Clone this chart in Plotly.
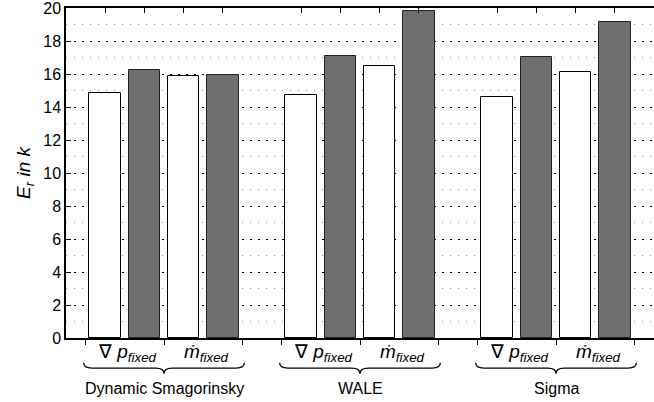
import plotly.graph_objects as go

# ---- data ----
groups = ["Dynamic Smagorinsky", "WALE", "Sigma"]
subgroups = ["∇ <i>p</i><sub><i>fixed</i></sub>", "<i>ṁ</i><sub><i>fixed</i></sub>"]
light_values = [[14.85, 15.85], [14.7, 16.5], [14.58, 16.15]]   # white bars
dark_values = [[16.22, 15.95], [17.1, 19.8], [17.04, 19.15]]    # dark bars
y_ticks = list(range(0, 21, 2))

# ---- positions (slot units) ----
def pos(g, s, b):
    return g * 5 + s * 2 + b

xl, yl, xd, yd = [], [], [], []
for g in range(len(groups)):
    for s in range(len(subgroups)):
        xl.append(pos(g, s, 0)); yl.append(light_values[g][s])
        xd.append(pos(g, s, 1)); yd.append(dark_values[g][s])

XMIN, XMAX = -1.0, 14.0
bar_w = 0.81
font_family = "Liberation Sans, Arial, sans-serif"

fig = go.Figure()
fig.add_trace(go.Bar(x=xl, y=yl, width=bar_w, marker=dict(color="white", line=dict(color="black", width=1)), showlegend=False))
fig.add_trace(go.Bar(x=xd, y=yd, width=bar_w, marker=dict(color="#6f6f6f", line=dict(color="#222222", width=1)), showlegend=False))
centers = sorted(xl + xd)
fig.add_trace(go.Scatter(x=centers, y=[0] * len(centers), xaxis="x2", mode="markers", marker=dict(opacity=0), showlegend=False, hoverinfo="skip"))

boundaries = []
for g in range(len(groups)):
    for s in range(len(subgroups) + 1):
        boundaries.append(g * 5 + s * 2 - 0.5)

def xp(x):
    return (x - XMIN) / (XMAX - XMIN)

annotations = []
shapes = []
for g, gname in enumerate(groups):
    for s, sname in enumerate(subgroups):
        annotations.append(dict(x=pos(g, s, 0.5) + 0.08, y=-0.046, xref="x", yref="paper", text=sname,
                                showarrow=False, xanchor="center", yanchor="middle",
                                font=dict(size=19, color="black", family=font_family)))
    x0 = xp(pos(g, 0, 0) - 0.55)
    x1 = xp(pos(g, 1, 1) + 0.55)
    xc = (x0 + x1) / 2
    yt, ym, yb = -0.075, -0.091, -0.108
    r = 0.014
    path = (f"M {x0},{yt} Q {x0},{ym} {x0 + r},{ym} L {xc - r},{ym} Q {xc},{ym} {xc},{yb} "
            f"Q {xc},{ym} {xc + r},{ym} L {x1 - r},{ym} Q {x1},{ym} {x1},{yt}")
    shapes.append(dict(type="path", path=path, xref="paper", yref="paper", line=dict(color="black", width=1.3)))
    annotations.append(dict(x=pos(g, 0.5, 0.5), y=-0.152, xref="x", yref="paper", text=gname,
                            showarrow=False, xanchor="center", yanchor="middle",
                            font=dict(size=16, color="black", family=font_family)))

fig.update_layout(
    width=654, height=402,
    margin=dict(l=66, r=0, t=6, b=64),
    plot_bgcolor="white", paper_bgcolor="white",
    font=dict(family=font_family, size=16, color="black"),
    bargap=0,
    xaxis=dict(range=[XMIN, XMAX], tickvals=boundaries, ticks="outside", ticklen=5, tickwidth=1,
               tickcolor="black", showticklabels=False, showline=True, linecolor="black", linewidth=1.5,
               showgrid=False, zeroline=False),
    xaxis2=dict(range=[XMIN, XMAX], overlaying="x", side="top", tickvals=centers, ticks="inside",
                ticklen=5, tickwidth=1, tickcolor="black", showticklabels=False, showline=True,
                linecolor="black", linewidth=1.5, showgrid=False, zeroline=False),
    yaxis=dict(range=[0, 20.0001], tickvals=y_ticks, ticks="inside", ticklen=5, tickwidth=1, tickcolor="black",
               showline=True, linecolor="black", linewidth=1.5, zeroline=False,
               showgrid=True, gridcolor="black", griddash="2px,6px", gridwidth=1,
               minor=dict(dtick=1, showgrid=True, gridcolor="#8a8a8a", griddash="1px,7px", gridwidth=1),
               tickfont=dict(size=16), ticklabeloverflow="allow",
               title=dict(text="<i>E<sub>r</sub> in k</i>", font=dict(size=19), standoff=8)),
    shapes=shapes,
    annotations=annotations,
)

fig.write_html("out.html")
